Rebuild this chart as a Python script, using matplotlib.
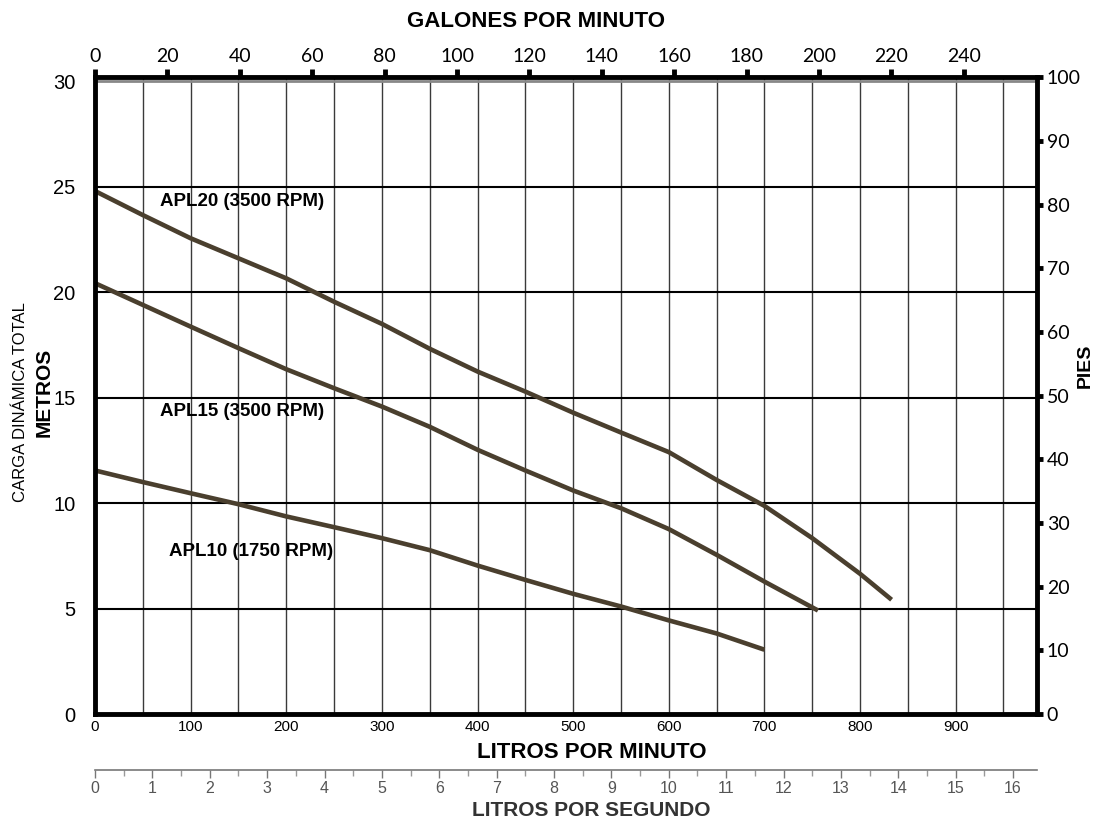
import matplotlib
matplotlib.use('Agg')
from matplotlib import pyplot as plt
from matplotlib.ticker import MultipleLocator

# caudal en litros por minuto y carga en metros
lpm_apl20 = [0, 50, 100, 150, 200, 250, 300, 350, 400, 450, 500, 550, 600, 650, 700, 750, 800, 833]
m_apl20 = [24.8, 23.66, 22.56, 21.61, 20.66, 19.55, 18.5, 17.32, 16.24, 15.29, 14.29, 13.35, 12.42, 11.1, 9.87, 8.34, 6.65, 5.42]

lpm_apl15 = [0, 50, 100, 150, 200, 250, 300, 350, 400, 450, 500, 550, 600, 650, 700, 756]
m_apl15 = [20.43, 19.4, 18.37, 17.35, 16.35, 15.45, 14.58, 13.62, 12.53, 11.55, 10.6, 9.76, 8.77, 7.55, 6.28, 4.91]

lpm_apl10 = [0, 50, 100, 150, 200, 250, 300, 350, 400, 450, 500, 550, 600, 650, 700]
m_apl10 = [11.55, 11.0, 10.47, 9.95, 9.37, 8.86, 8.34, 7.77, 7.04, 6.36, 5.7, 5.1, 4.44, 3.82, 3.05]

labels = ['APL20 (3500 RPM)', 'APL15 (3500 RPM)', 'APL10 (1750 RPM)']
label_pos = [(68, 24.3), (68, 14.35), (77, 7.7)]

lpm_ticks = list(range(0, 1000, 100))
gpm_ticks = list(range(0, 260, 20))
m_ticks = list(range(0, 35, 5))
ft_ticks = list(range(0, 110, 10))
lps_ticks = list(range(0, 17))

ARIAL = ['Liberation Sans', 'DejaVu Sans']
CALIB = ['Lato', 'DejaVu Sans']
LINE = '#4a3f2e'

fig = plt.figure(figsize=(10.95, 8.21), dpi=100)
ax = fig.add_axes([0.0868, 0.1303, 0.8602, 0.7757])

for x, y in [(lpm_apl20, m_apl20), (lpm_apl15, m_apl15), (lpm_apl10, m_apl10)]:
    ax.plot(x, y, color=LINE, lw=3.3, solid_capstyle='butt', solid_joinstyle='round', zorder=3)

for t, (x, y) in zip(labels, label_pos):
    ax.text(x, y, t, family=ARIAL, weight='bold', fontsize=13.5, va='center', ha='left', zorder=4)

ax.set_xlim(0, 985)
ax.set_ylim(0, 30.2)

# rejilla
for v in range(50, 1000, 50):
    ax.axvline(v, color='#3a3a3a', lw=1.0, zorder=1)
for h in range(5, 30, 5):
    ax.axhline(h, color='black', lw=1.5, zorder=1)
ax.axhline(30, color='#888888', lw=2.0, zorder=1)

for s in ax.spines.values():
    s.set_linewidth(3.5)
    s.set_zorder(5)

ax.set_xticks(lpm_ticks)
ax.set_yticks(m_ticks)
ax.tick_params(axis='x', length=0, pad=4)
ax.tick_params(axis='y', length=0, pad=14)
for lb in ax.get_xticklabels():
    lb.set_family(ARIAL)
    lb.set_fontsize(11)
for lb in ax.get_yticklabels():
    lb.set_family(ARIAL)
    lb.set_fontsize(14.5)

# galones por minuto arriba
top = ax.secondary_xaxis('top', functions=(lambda q: q / 3.785, lambda g: g * 3.785))
top.set_xticks(gpm_ticks)
top.tick_params(direction='out', length=6, width=3.5, pad=3, labelsize=14)
for lb in top.get_xticklabels():
    lb.set_family(CALIB)

# pies a la derecha
ax2 = ax.twinx()
ax2.set_ylim(0, 100)
ax2.set_yticks(ft_ticks)
ax2.tick_params(direction='out', length=4, width=3.5, pad=3, labelsize=14)
for lb in ax2.get_yticklabels():
    lb.set_family(CALIB)
for s in ax2.spines.values():
    s.set_visible(False)

# escala de litros por segundo
ax3 = fig.add_axes([0.0868, 0.0621, 0.8602, 0.001])
ax3.set_xlim(0, 985 / 60)
ax3.set_yticks([])
for k in ['top', 'left', 'right']:
    ax3.spines[k].set_visible(False)
ax3.spines['bottom'].set_color('#777777')
ax3.spines['bottom'].set_linewidth(1.2)
ax3.set_xticks(lps_ticks)
ax3.xaxis.set_minor_locator(MultipleLocator(0.5))
ax3.tick_params(axis='x', which='major', length=6, width=1, color='#777777', labelcolor='#555555', labelsize=11.5, pad=2)
ax3.tick_params(axis='x', which='minor', length=4, width=1, color='#999999')
for lb in ax3.get_xticklabels():
    lb.set_family(ARIAL)
ax3.patch.set_visible(False)

fig.text(0.4895, 0.974, 'GALONES POR MINUTO', family=ARIAL, weight='bold', fontsize=16, ha='center', va='center')
fig.text(0.54, 0.084, 'LITROS POR MINUTO', family=ARIAL, weight='bold', fontsize=16, ha='center', va='center')
fig.text(0.54, 0.013, 'LITROS POR SEGUNDO', family=ARIAL, weight='bold', fontsize=15, ha='center', va='center', color='#333333')
fig.text(0.040, 0.5225, 'METROS', family=ARIAL, weight='bold', fontsize=15, rotation=90, ha='center', va='center')
fig.text(0.019, 0.51, 'CARGA DINÁMICA TOTAL', family=ARIAL, fontsize=12, rotation=90, ha='center', va='center')
fig.text(0.991, 0.554, 'PIES', family=ARIAL, weight='bold', fontsize=14, rotation=90, ha='center', va='center')

fig.savefig('out.png', dpi=100)
plt.close(fig)
